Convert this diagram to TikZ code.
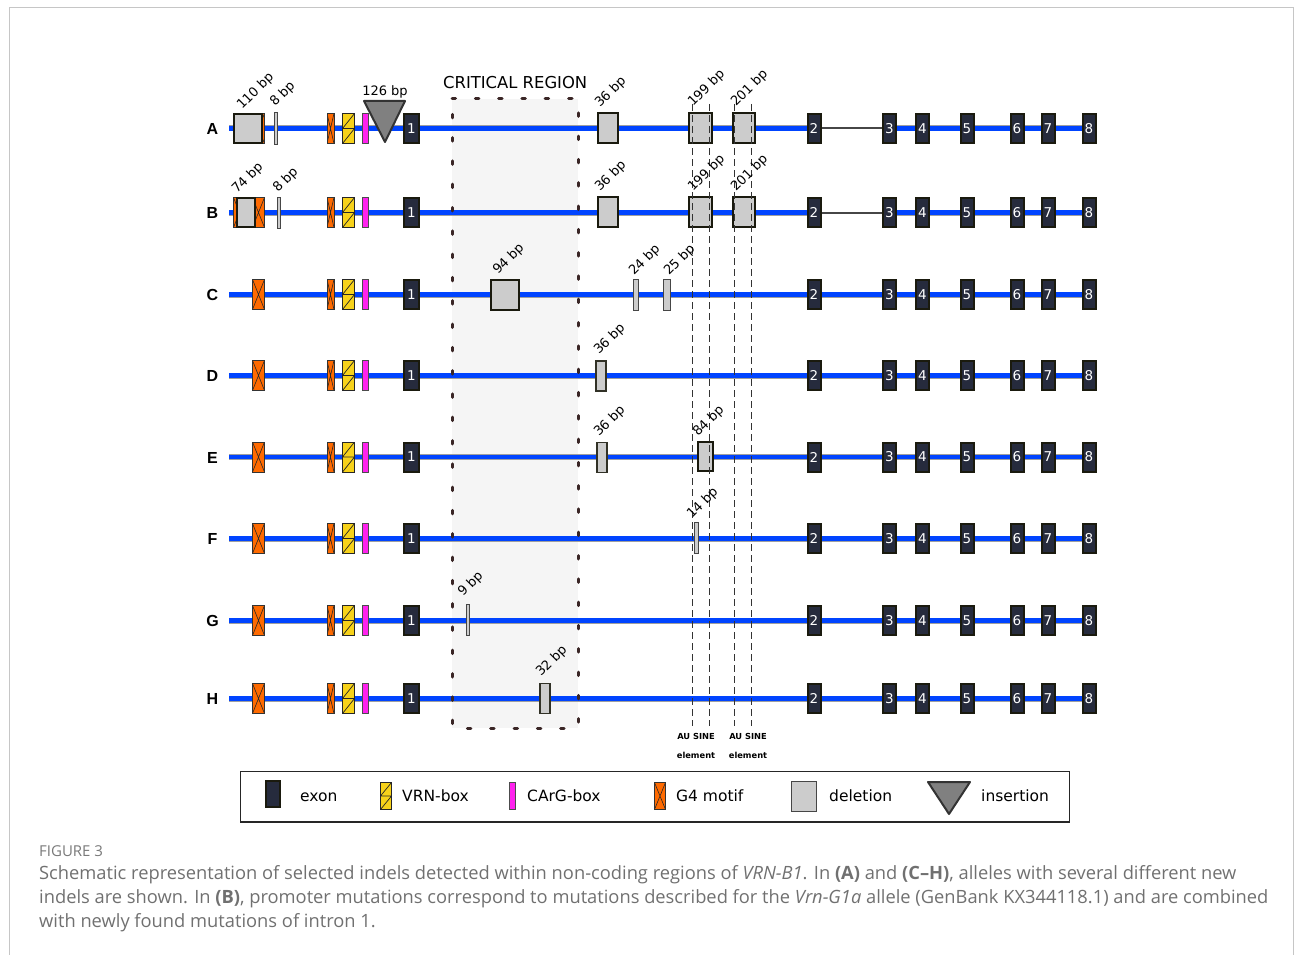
\documentclass[tikz,border=0pt]{standalone}
\usepackage{fontspec}
\setmainfont{DejaVu Sans}
\newfontfamily\rowfont{Liberation Sans}
\newfontfamily\capfont{Open Sans}
\usetikzlibrary{calc}

\definecolor{exonfill}{HTML}{262B3D}
\definecolor{exonline}{HTML}{1A1A0E}
\definecolor{g4fill}{HTML}{FF6A00}
\definecolor{vrnfill}{HTML}{F7D21A}
\definecolor{cargfill}{HTML}{FF22EE}
\definecolor{delfill}{HTML}{CCCCCC}
\definecolor{genblue}{HTML}{0044FF}
\definecolor{critfill}{HTML}{F5F5F5}
\definecolor{critdot}{HTML}{3A2626}
\definecolor{capgrey}{HTML}{707070}
\definecolor{insfill}{HTML}{808080}

\tikzset{
  rowline/.style={draw=gray!75, line width=0.8pt, double=genblue, double distance=4.4pt},
  intronthin/.style={draw=gray!55!black, line width=2pt},
  box/.style={rectangle, inner sep=0pt, outer sep=0pt},
  exon/.style={box, draw=exonline, line width=2pt, fill=exonfill, minimum width=13pt, minimum height=29pt,
    text=white, font=\fontsize{13.5}{13.5}\selectfont},
  exonone/.style={exon, minimum width=15pt},
  gfour/.style={box, draw=black!80, line width=1pt, fill=g4fill, minimum width=12pt, minimum height=30pt,
    path picture={\draw[line width=0.6pt, black!85]
      (path picture bounding box.north west) -- (path picture bounding box.south east)
      (path picture bounding box.north east) -- (path picture bounding box.south west);}},
  vrn/.style={box, draw=black!85, line width=1pt, fill=vrnfill, minimum width=12pt, minimum height=30pt,
    path picture={\draw[line width=0.7pt, black!85]
      (path picture bounding box.west) -- (path picture bounding box.north east)
      (path picture bounding box.west) -- (path picture bounding box.east)
      (path picture bounding box.south west) -- (path picture bounding box.east);}},
  carg/.style={box, draw=gray!60!black, line width=1pt, fill=cargfill, minimum width=6pt, minimum height=30pt},
  delbig/.style={box, draw=exonline, line width=2.2pt, fill=delfill, minimum height=29.5pt},
  delmid/.style={box, draw=exonline!90, line width=1.6pt, fill=delfill, minimum height=30pt},
  delsmall/.style={box, draw=gray!55!black, line width=1pt, fill=delfill, minimum height=31pt},
  ins/.style={draw=black!80, line width=2pt, fill=insfill, line join=round},
  bp/.style={font=\fontsize{13}{13}\selectfont, rotate=45, anchor=base west, inner sep=0pt},
  rowlab/.style={font=\rowfont\bfseries\fontsize{16}{16}\selectfont, inner sep=0pt},
  critborder/.style={draw=critdot, line width=3pt, line cap=round, dash pattern=on 3.5pt off 19.8pt},
  auline/.style={draw=black!80, line width=0.9pt, dash pattern=on 7pt off 4pt},
  aulab/.style={font=\bfseries\fontsize{8.3}{19}\selectfont, align=center, inner sep=0pt},
  legtext/.style={font=\fontsize{15.5}{15.5}\selectfont, anchor=base west, inner sep=0pt},
  captext/.style={font=\capfont\fontsize{18.3}{18.3}\selectfont, text=capgrey, anchor=base west, inner sep=0pt},
  framegrey/.style={draw=gray!45, line width=1pt}
}

\begin{document}
\begin{tikzpicture}[x=1pt,y=-1pt]
\useasboundingbox (0,0) rectangle (1295,955);
\draw[framegrey] (9.5,955) -- (9.5,7.5) -- (1293.5,7.5) -- (1293.5,955);

% critical region fill
\fill[critfill] (452,99) rectangle (578,728);

% row lines
\foreach \r/\y in {A/128.5,B/212.5}{
  \coordinate (\r s) at (229,\y);
  \coordinate (\r e) at (1097,\y);
  \coordinate (\r i) at (821,\y);
  \coordinate (\r j) at (882,\y);
  \draw[rowline] (\r s) -- (\r i);
  \draw[intronthin] (\r i) -- (\r j);
  \draw[rowline] (\r j) -- (\r e);
}
\foreach \r/\y in {C/294.5,D/375.5,E/457,F/538.5,G/620.5,H/698.5}{
  \coordinate (\r s) at (229,\y);
  \coordinate (\r e) at (1097,\y);
  \draw[rowline] (\r s) -- (\r e);
}

% extra G4 under the 74 bp deletion (row B)
\node[gfour] (gxB) at (239.5,212.5) {};

% promoter elements and exons common to all rows
\foreach \r/\y in {A/128.5,B/212.5,C/294.5,D/375.5,E/457,F/538.5,G/620.5,H/698.5}{
  \node[rowlab] (lab\r) at (212.5,\y+0.5) {\r};
  \node[gfour] (gb\r) at (258.5,\y) {};
  \node[gfour, minimum width=7pt] (gn\r) at (330.5,\y) {};
  \node[vrn] (vrn\r) at (348.5,\y) {};
  \node[carg] (carg\r) at (365.5,\y) {};
  \node[exonone] (ex\r1) at (411.5,\y) {1};
  \foreach \n/\x in {2/814,3/889.5,4/922.5,5/967,6/1017,7/1048,8/1089}{
    \node[exon] (ex\r\n) at (\x,\y) {\n};
  }
}

% row A
\node[delbig, minimum width=28pt] (dA1) at (248,128.5) {};
\node[delsmall, minimum width=3.5pt] (dA2) at (276,128.5) {};
\draw[ins] (364,101) -- (405,101) -- (385,142) -- cycle;
\node[font=\fontsize{13}{13}\selectfont, anchor=base, inner sep=0pt] (iA) at (385,96) {126 bp};
\node[delbig, minimum width=20pt] (dA3) at (608,128) {};
\node[delbig, minimum width=23pt] (dA4) at (700.5,128) {};
\node[delbig, minimum width=22pt] (dA5) at (744,128) {};

% row B
\node[delbig, minimum width=18pt] (dB1) at (246,212.5) {};
\node[delsmall, minimum width=3.5pt] (dB2) at (279,212.5) {};
\node[delbig, minimum width=20pt] (dB3) at (608,212) {};
\node[delbig, minimum width=23pt] (dB4) at (700.5,212) {};
\node[delbig, minimum width=22pt] (dB5) at (744,212) {};

% row C
\node[delbig, minimum width=28pt] (dC1) at (505,295) {};
\node[delsmall, minimum width=5pt] (dC2) at (636,295) {};
\node[delsmall, minimum width=7pt] (dC3) at (667,295) {};

% row D
\node[delmid, minimum width=10.5pt] (dD1) at (601,376) {};
% row E
\node[delmid, minimum width=10.5pt] (dE1) at (602,457.5) {};
\node[delbig, minimum width=15pt] (dE2) at (705.5,456.5) {};
% row F
\node[delsmall, minimum width=4pt] (dF1) at (696.5,538) {};
% row G
\node[delsmall, minimum width=3pt] (dG1) at (468,619.5) {};
% row H
\node[delmid, minimum width=10.5pt] (dH1) at (545,698.5) {};

% critical region border
\draw[critborder] (452,99) -- (578,99) -- (578,728) -- (452,728) -- cycle;
\node[font=\fontsize{16.4}{16.4}\selectfont, anchor=base west, inner sep=0pt] (crit) at (443,89) {CRITICAL REGION};

% AU SINE element lines
\foreach \i/\x in {1/692,2/709,3/734,4/751}{
  \coordinate (au\i t) at (\x,104);
  \coordinate (au\i b) at (\x,726);
  \draw[auline] (au\i t) -- (au\i b);
}
\node[aulab, anchor=north] (au1) at (696,733) {AU SINE\\element};
\node[aulab, anchor=north] (au2) at (748,733) {AU SINE\\element};

% bp labels
\node[bp] (lA1) at (242,110) {110 bp};
\node[bp] (lA2) at (275,107) {8 bp};
\node[bp] (lA3) at (600,108) {36 bp};
\node[bp] (lA4) at (693,107) {199 bp};
\node[bp] (lA5) at (736,107) {201 bp};
\node[bp] (lB1) at (237,194) {74 bp};
\node[bp] (lB2) at (278,193) {8 bp};
\node[bp] (lB3) at (600,192) {36 bp};
\node[bp] (lB4) at (693,192) {199 bp};
\node[bp] (lB5) at (736,192) {201 bp};
\node[bp] (lC1) at (498,275) {94 bp};
\node[bp] (lC2) at (634,276) {24 bp};
\node[bp] (lC3) at (669,276) {25 bp};
\node[bp] (lD1) at (599,355) {36 bp};
\node[bp] (lE1) at (599,437) {36 bp};
\node[bp] (lE2) at (698,437) {84 bp};
\node[bp] (lF1) at (692,519) {14 bp};
\node[bp] (lG1) at (463,597) {9 bp};
\node[bp] (lH1) at (541,677) {32 bp};

% legend
\draw[line width=1.3pt, black!85] (240.5,771.5) rectangle (1069.5,822);
\node[exon, minimum width=14pt, minimum height=26pt] (kexon) at (273,794) {};
\node[legtext] (texon) at (300,801.5) {exon};
\node[vrn, minimum width=11pt, minimum height=27pt] (kvrn) at (386,796) {};
\node[legtext] (tvrn) at (402,801.5) {VRN-box};
\node[carg, minimum width=6pt, minimum height=27pt] (kcarg) at (512.5,796) {};
\node[legtext] (tcarg) at (527,801.5) {CArG-box};
\node[gfour, minimum width=11pt, minimum height=27pt] (kg4) at (660,796) {};
\node[legtext] (tg4) at (676,801.5) {G4 motif};
\node[delsmall, minimum width=25pt, minimum height=30pt] (kdel) at (804,796.5) {};
\node[legtext] (tdel) at (829,801.5) {deletion};
\draw[ins] (928,782) -- (970,782) -- (949,814) -- cycle;
\node[legtext] (tins) at (981,801.5) {insertion};

% caption
\node[captext, font=\capfont\fontsize{15}{15}\selectfont, text=gray!95!black] (fig) at (39,856) {FIGURE 3};
\node[captext] (cap1) at (39,879) {Schematic representation of selected indels detected within non-coding regions of \textit{VRN-B1}. In \textbf{(A)} and \textbf{(C\textendash H)}, alleles with several different new};
\node[captext] (cap2) at (39,903) {indels are shown. In \textbf{(B)}, promoter mutations correspond to mutations described for the \textit{Vrn-G1a} allele (GenBank KX344118.1) and are combined};
\node[captext] (cap3) at (39,927) {with newly found mutations of intron 1.};
\end{tikzpicture}
\end{document}
